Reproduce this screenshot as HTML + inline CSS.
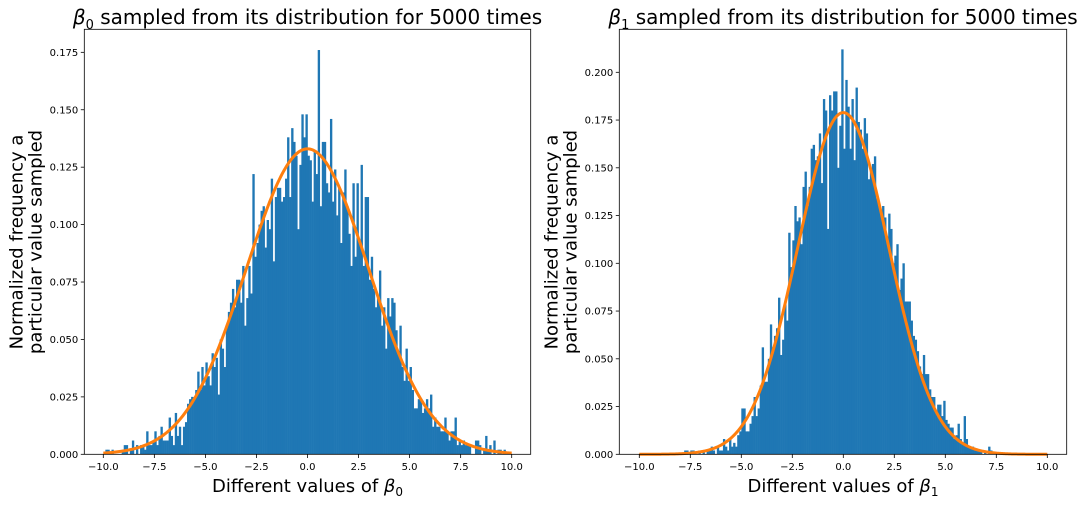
<!DOCTYPE html>
<html><head><meta charset="utf-8"><style>
body{margin:0;background:#fff;width:1080px;height:503px;overflow:hidden}
svg{font-family:"DejaVu Sans","Liberation Sans",sans-serif}
</style></head><body>
<svg id="chart" width="1080" height="503"></svg>
<script>
// bins of width 0.1 from -10 to 10 (values in thousandths)
const leftBins = [
0,2,2,0,2,0,0,0,0,2, 4,4,0,2,6,0,4,0,4,4, 2,10,4,4,6,10,4,8,12,6, 6,6,16,8,4,18,8,12,4,12,
14,22,24,25,24,28,36,28,38,30, 40,34,30,44,38,42,26,50,46,38, 56,62,66,72,64,76,76,66,82,56,
68,82,70,122,86,92,100,106,108,90, 102,98,120,84,112,116,116,110,112,120, 138,112,142,136,130,98,126,148,138,148,
130,128,110,132,122,176,108,136,136,118, 114,146,110,124,104,116,92,114,124,108, 96,82,118,86,118,92,126,82,112,112,
76,86,72,64,68,80,56,64,46,68, 60,68,66,54,44,56,38,32,46,32, 38,28,20,20,24,24,18,20,24,20,
26,12,16,12,12,10,10,16,10,6, 10,10,16,4,6,4,6,4,4,4, 0,0,6,6,4,0,2,8,2,4, 0,6,0,2,2,0,2,0,0,0];
const rightBins = [
0,0,0,0,0,0,0,0,0,0, 0,0,0,0,0,0,0,0,0,0, 0,0,2,2,0,2,2,0,0,2, 0,2,0,2,2,4,2,0,4,2,
2,8,4,2,8,4,6,4,10,12, 24,24,12,12,16,20,30,20,24,36, 56,38,38,50,68,56,62,66,82,52,
60,80,70,116,98,112,130,122,124,110, 140,148,130,140,160,162,154,156,168,142, 186,180,118,188,180,190,190,150,172,212,
160,196,182,160,186,154,192,174,170,160, 176,168,144,150,152,156,134,130,126,130, 124,114,126,118,100,104,110,86,92,100,
80,80,80,70,62,60,54,46,42,52, 42,42,34,30,30,22,26,26,20,28, 18,16,14,14,8,10,16,8,6,20,
8,4,4,4,2,2,2,2,0,2, 0,4,2,0,0,0,0,0,0,0, 0,0,0,0,0,0,0,0,0,0, 0,0,0,0,0,0,0,0,0,0];
const leftSigma = [3.0];
const rightSigma = [2.23];
const xTicks = [-10,-7.5,-5,-2.5,0,2.5,5,7.5,10];
const leftYTicks = [0,0.025,0.05,0.075,0.1,0.125,0.15,0.175];
const rightYTicks = [0,0.025,0.05,0.075,0.1,0.125,0.15,0.175,0.2];

const NS="http://www.w3.org/2000/svg";
const svg=document.getElementById('chart');
function el(t,a,p){const e=document.createElementNS(NS,t);for(const k in a)e.setAttribute(k,a[k]);(p||svg).appendChild(e);return e;}

function panel(cfg){
  const g=el('g',{});
  
  
  const X=v=>cfg.x0+(v+10)*(cfg.x1-cfg.x0)/20;
  const Y=v=>454.3-v*cfg.ys;
  cfg.bins.forEach((v,i)=>{
    const h=v/1000;
    if(h<=0)return;
    const r=el('rect',{x:X(-10+i*0.1),y:Y(h),width:X(-9.9)-X(-10)+0.3,height:454.3-Y(h),fill:'#1f77b4'},g);
    
    
  });
  const s=cfg.sigma[0];let d='';
  for(let i=0;i<=400;i++){const x=-10+i*0.05;const y=Math.exp(-x*x/(2*s*s))/(s*Math.sqrt(2*Math.PI));d+=(i?'L':'M')+X(x).toFixed(2)+','+Y(y).toFixed(2);}
  const c=el('path',{d:d,fill:'none',stroke:'#ff7f0e','stroke-width':3},g);
  
  
  const f=el('rect',{x:cfg.fl,y:29.3,width:cfg.fr-cfg.fl,height:425,fill:'none',stroke:'#000','stroke-width':0.8},g);
  
  
  xTicks.forEach(t=>{
    el('line',{x1:X(t),x2:X(t),y1:454.3,y2:458,stroke:'#000','stroke-width':0.8},g);
    const tx=el('text',{x:X(t),y:470,'font-size':10,'text-anchor':'middle'},g);
    tx.textContent=(t<0?'\u2212':'')+Math.abs(t).toFixed(1);
    
    
  });
  cfg.yt.forEach(t=>{
    el('line',{x1:cfg.fl-3.5,x2:cfg.fl,y1:Y(t),y2:Y(t),stroke:'#000','stroke-width':0.8},g);
    const tx=el('text',{x:cfg.fl-6,y:Y(t)+3.5,'font-size':10,'text-anchor':'end'},g);
    tx.textContent=t.toFixed(3);
    
    
  });
  const cx=(cfg.fl+cfg.fr)/2;
  const ti=el('text',{x:cx,y:24,'font-size':20,'text-anchor':'middle'},g);
  ti.innerHTML='<tspan font-style="italic">β</tspan><tspan font-size="13" dy="5">'+cfg.sub+'</tspan><tspan dy="-5"> sampled from its distribution for 5000 times</tspan>';
  
  
  const xl=el('text',{x:cx,y:492,'font-size':18,'text-anchor':'middle'},g);
  xl.innerHTML='Different values of <tspan font-style="italic">β</tspan><tspan font-size="12" dy="4">'+cfg.sub+'</tspan>';
  
  
  const yl=el('text',{transform:'translate('+(cfg.fl-58)+',242) rotate(-90)','font-size':18,'text-anchor':'middle'},g);
  yl.innerHTML='<tspan x="0" dy="-4">Normalized frequency a</tspan><tspan x="0" dy="19">particular value sampled</tspan>';
  
  
}
panel({name:'beta0-panel',bins:leftBins,sigma:leftSigma,x0:103.3,x1:511.7,fl:84.3,fr:530.7,ys:2297,yt:leftYTicks,sub:'0'});
panel({name:'beta1-panel',bins:rightBins,sigma:rightSigma,x0:639.3,x1:1047.3,fl:619.3,fr:1066.7,ys:1910,yt:rightYTicks,sub:'1'});
</script>
</body></html>
